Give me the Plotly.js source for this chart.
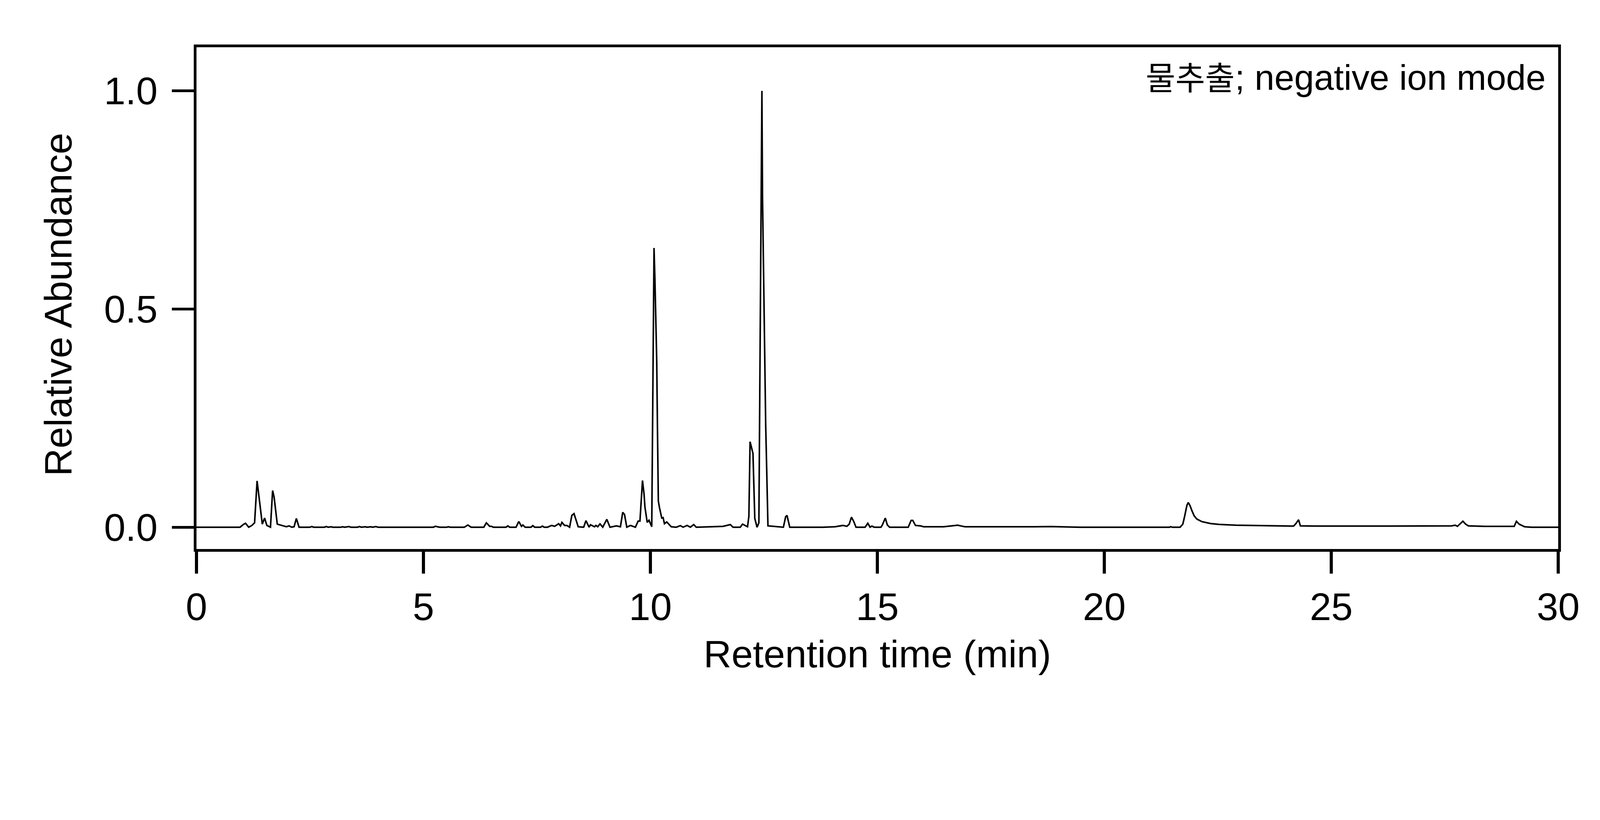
<!DOCTYPE html>
<html>
<head>
<meta charset="utf-8">
<script src="https://cdn.plot.ly/plotly-3.0.1.min.js"></script>
<style>
  html, body { margin: 0; padding: 0; background: #ffffff; overflow: hidden; }
  #chart { position: absolute; left: 0; top: 0; }
</style>
</head>
<body>
<div id="chart"></div>
<script>
// Retention time (min)
const retentionTime = [
  0, 0.96, 1.03, 1.08, 1.15, 1.22, 1.28, 1.335, 1.45, 1.50, 1.55, 1.63, 1.677, 1.71, 1.78, 1.88, 1.98, 2.04, 2.10, 2.15, 2.20, 2.26,
  2.50, 2.54, 2.58, 2.82, 2.86, 2.90, 2.97, 3.00, 3.18, 3.22, 3.26, 3.36, 3.40, 3.55, 3.59, 3.63, 3.72, 3.76, 3.84, 3.88, 3.95, 4.00,
  5.22, 5.26, 5.32, 5.36, 5.51, 5.55, 5.59, 5.90, 5.98, 6.05,
  6.33, 6.386, 6.46, 6.50, 6.54, 6.82, 6.86, 6.90, 7.04, 7.10, 7.16, 7.19, 7.24, 7.37, 7.41, 7.45, 7.58, 7.62, 7.66, 7.73,
  7.826, 7.89, 7.98, 8.02, 8.05, 8.11, 8.16, 8.22, 8.27, 8.317, 8.41, 8.53, 8.58, 8.65, 8.68, 8.77, 8.80, 8.84, 8.89, 8.95,
  9.04, 9.11, 9.25, 9.34, 9.39, 9.43, 9.48, 9.56, 9.67, 9.73, 9.77, 9.826, 9.86, 9.88, 9.93, 9.97, 10.03,
  10.08, 10.10, 10.14, 10.154, 10.175, 10.20, 10.25, 10.28, 10.31, 10.36, 10.41, 10.46, 10.57, 10.66, 10.72, 10.81, 10.88, 10.955, 11.01,
  11.45, 11.60, 11.76, 11.82, 11.98, 12.03, 12.14, 12.17, 12.196, 12.26, 12.30, 12.35, 12.39, 12.42, 12.457, 12.47, 12.51, 12.54, 12.59,
  12.93, 12.98, 13.01, 13.07, 13.80, 14.07, 14.24, 14.33, 14.38, 14.43, 14.48, 14.53, 14.73, 14.79, 14.84, 14.88, 14.93,
  15.08, 15.11, 15.175, 15.22, 15.27, 15.68, 15.745, 15.78, 15.84, 15.95, 16.02, 16.46, 16.60, 16.77, 16.86, 16.93,
  18.46, 18.82, 19.46, 21.44, 21.46, 21.50, 21.67, 21.73, 21.77, 21.82, 21.85, 21.89, 21.93, 21.98, 22.04, 22.15, 22.34, 22.53,
  22.90, 23.28, 23.65, 24.17, 24.22, 24.28, 24.32, 24.65, 26.15, 27.65, 27.73, 27.78, 27.90, 27.96, 28.02, 28.39,
  29.03, 29.08, 29.14, 29.26, 29.41, 30.0
];
// Relative abundance
const relativeAbundance = [
  0, 0, 0.006, 0.009, 0, 0.004, 0.010, 0.106, 0.007, 0.021, 0.004, 0, 0.084, 0.069, 0.007, 0.004, 0.001, 0.003, 0, 0.001, 0.020, 0,
  0, 0.0015, 0, 0, 0.0015, 0, 0.001, 0, 0, 0.001, 0, 0.0015, 0, 0, 0.0015, 0, 0.001, 0, 0.001, 0, 0.0015, 0,
  0, 0.002, 0.001, 0, 0, 0.001, 0, 0, 0.005, 0,
  0, 0.010, 0.002, 0.002, 0, 0, 0.003, 0, 0, 0.013, 0.002, 0.005, 0, 0, 0.0036, 0, 0, 0.0025, 0, 0,
  0.004, 0.002, 0.008, 0.003, 0.011, 0.004, 0.004, 0, 0.027, 0.031, 0.001, 0, 0.015, 0, 0.0056, 0.001, 0.004, 0.001, 0.0076, 0,
  0.018, 0, 0.003, 0.001, 0.034, 0.029, 0, 0.004, 0, 0.014, 0.014, 0.107, 0.076, 0.046, 0.011, 0.016, 0.001,
  0.640, 0.568, 0.378, 0.243, 0.060, 0.045, 0.021, 0.022, 0.008, 0.012, 0.007, 0.001, 0, 0.0036, 0, 0.004, 0, 0.006, 0,
  0.002, 0.002, 0.006, 0, 0, 0.007, 0.001, 0.025, 0.196, 0.169, 0.020, 0, 0.010, 0.512, 1.0, 0.759, 0.476, 0.236, 0.003,
  0, 0.024, 0.027, 0, 0, 0.001, 0.004, 0.002, 0.007, 0.023, 0.013, 0, 0, 0.009, 0, 0.0025, 0,
  0, 0.005, 0.021, 0.005, 0, 0, 0.0155, 0.0155, 0.004, 0.003, 0.001, 0.001, 0.0025, 0.0046, 0.0025, 0.001,
  0.001, 0.0015, 0, 0, 0.0012, 0, 0, 0.007, 0.025, 0.050, 0.0567, 0.049, 0.038, 0.026, 0.0186, 0.0127, 0.0084, 0.0064,
  0.0046, 0.0038, 0.003, 0.0025, 0.008, 0.017, 0.003, 0.0025, 0.0025, 0.003, 0.0046, 0.002, 0.0137, 0.007, 0.003, 0.002,
  0.002, 0.0135, 0.007, 0.001, 0, 0
];

const xTickValues = [0, 5, 10, 15, 20, 25, 30];
const xTickLabels = ["0", "5", "10", "15", "20", "25", "30"];
const yTickValues = [0, 0.5, 1.0];
const yTickLabels = ["0.0", "0.5", "1.0"];

const xTitle = "Retention time (min)";
const yTitle = "Relative Abundance";
const panelLabelKo = "물추출";
const panelLabelEn = "; negative ion mode";

// design is laid out for a 4806 x 2100 canvas; scale to the actual viewport
const BASE_W = 4806, BASE_H = 2100;
const vw = window.innerWidth || document.documentElement.clientWidth || BASE_W;
const vh = window.innerHeight || document.documentElement.clientHeight || BASE_H;
const S = Math.min(vw / BASE_W, vh / BASE_H);
const px = v => v * S;

const FONT = "Liberation Sans, Arial, Noto Sans CJK KR, sans-serif";

const chartDiv = document.getElementById("chart");
chartDiv.style.width = px(BASE_W) + "px";
chartDiv.style.height = px(BASE_H) + "px";

// trailing no-break space widens the gap between y tick labels and tick marks
const yGap = '<span style="font-size:' + px(70) + 'px">\u00A0</span>';

const trace = {
  type: "scatter",
  mode: "lines",
  x: retentionTime,
  y: relativeAbundance,
  line: { color: "#000000", width: px(4.7), shape: "linear" },
  hoverinfo: "skip"
};

const axisCommon = {
  showline: true,
  linewidth: px(8),
  linecolor: "#000000",
  mirror: true,
  showgrid: false,
  zeroline: false,
  ticks: "outside",
  tickwidth: px(8.5),
  tickcolor: "#000000",
  tickfont: { family: FONT, size: px(116), color: "#000000" }
};

const layout = {
  width: px(BASE_W),
  height: px(BASE_H),
  margin: { l: px(590), r: px(126), t: px(142), b: px(451), pad: 0 },
  paper_bgcolor: "#ffffff",
  plot_bgcolor: "#ffffff",
  showlegend: false,
  font: { family: FONT, color: "#000000" },
  xaxis: Object.assign({}, axisCommon, {
    range: [0, 30],
    tickmode: "array",
    tickvals: xTickValues,
    ticktext: xTickLabels,
    ticklen: px(66),
    ticklabelstandoff: px(6),
    title: { text: xTitle, font: { family: FONT, size: px(116), color: "#000000" }, standoff: px(40) }
  }),
  yaxis: Object.assign({}, axisCommon, {
    range: [-0.05, 1.1],
    tickmode: "array",
    tickvals: yTickValues,
    ticktext: yTickLabels.map(t => t + yGap),
    ticklen: px(66),
    ticklabelstandoff: px(50)
  }),
  annotations: [
    {
      // y-axis title, centred on the data span like the reference
      xref: "paper", yref: "y",
      x: (175 - 590) / 4090, y: 0.51,
      xanchor: "center", yanchor: "middle",
      textangle: -90,
      showarrow: false,
      text: yTitle,
      font: { family: FONT, size: px(116), color: "#000000" }
    },
    {
      xref: "paper", yref: "paper",
      x: 0.9914, y: 0.981,
      xanchor: "right", yanchor: "top",
      showarrow: false,
      text: '<span style="font-size:' + px(97) + 'px">' + panelLabelKo + '</span>' + panelLabelEn,
      font: { family: FONT, size: px(107), color: "#000000" }
    }
  ]
};

Plotly.newPlot(chartDiv, [trace], layout, { staticPlot: true, displayModeBar: false });
</script>
</body>
</html>
